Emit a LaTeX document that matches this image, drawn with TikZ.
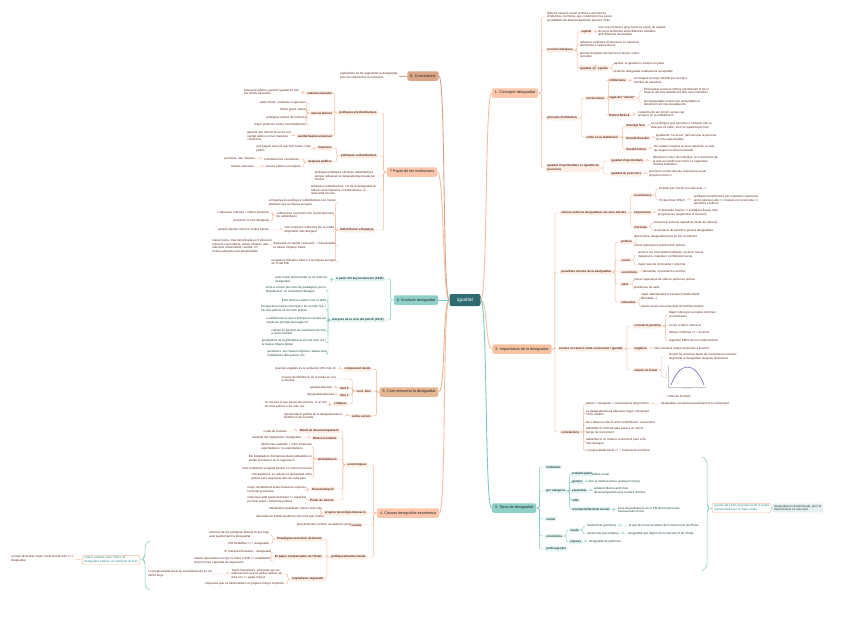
\documentclass[tikz,border=0pt]{standalone}
\usepackage{fontspec}
\setmainfont{Liberation Sans}
\definecolor{cMain}{HTML}{2D6B70}
\definecolor{oMain}{HTML}{FCC6AC}
\definecolor{o2Main}{HTML}{F5C3A2}
\definecolor{bMain}{HTML}{D9A788}
\definecolor{tanMain}{HTML}{E6B692}
\definecolor{tMain}{HTML}{8ED0C8}
\definecolor{oS}{HTML}{FEEDE4}
\definecolor{tS}{HTML}{E3F3F1}
\definecolor{oLine}{HTML}{F6BEA4}
\definecolor{o2Line}{HTML}{EEC6AB}
\definecolor{tanLine}{HTML}{E3B796}
\definecolor{bLine}{HTML}{D6A487}
\definecolor{tLine}{HTML}{7EC8C0}
\definecolor{oTx}{HTML}{5C2A1C}
\definecolor{tTx}{HTML}{1F4644}
\definecolor{tTx2}{HTML}{2C8A84}
\definecolor{gBox}{HTML}{E6EFEE}
\newcommand\fs{\fontsize{3}{3.75}\selectfont}
\tikzset{
  every node/.style={inner sep=0pt},
  mn/.style={rounded corners=2pt, minimum height=9.5, inner xsep=3pt, font=\fontsize{3.8}{4.5}\selectfont, text=black!85},
  sb/.style={rounded corners=1pt, inner xsep=1.2pt, inner ysep=0.9pt, font=\bfseries\fs, align=left},
  lf/.style={inner xsep=0.8pt, inner ysep=0.6pt, font=\fs, align=left},
  rw/.style={anchor=west}, le/.style={anchor=east},
  os/.style={sb, fill=oS, text=oTx},
  ts/.style={sb, fill=tS, text=tTx},
  ol/.style={lf, text=oTx},
  tl/.style={lf, text=tTx},
  eg/.style={line width=0.45pt, rounded corners=2pt},
}
\begin{document}
\begin{tikzpicture}[x=1pt,y=-1pt]
\fill[white] (0,0) rectangle (848,627);
\useasboundingbox (0,0) rectangle (848,627);

% ---------- centre and main branches
\node[fill=cMain, text=white, rounded corners=2pt, minimum width=31, minimum height=12, font=\fontsize{5}{6}\selectfont] (c) at (465,300) {igualtat};
\node[mn,fill=oMain] (b1) at (515,93) {1. Concepte desigualtat};
\node[mn,fill=o2Main] (b2) at (522,349) {2. Importància de la desigualtat};
\node[mn,fill=tMain] (b3) at (514,508) {3. Tipus de desigualtat};
\node[mn,fill=oMain] (b4) at (408,513) {4. Causes desigualtat econòmica};
\node[mn,fill=tanMain] (b5) at (409,392) {5. Com mesurem la desigualtat};
\node[mn,fill=tMain] (b6) at (416,300) {6. Evolució desigualtat};
\node[mn,fill=oMain] (b7) at (412,172) {7 Paper de les institucions};
\node[mn,fill=bMain] (b8) at (423,76) {8. Conclusions};

\draw[oLine,line width=0.9pt] (c.east) .. controls +(7,0) and +(-7,0) .. (b1.west);
\draw[o2Line,line width=0.9pt] (c.east) .. controls +(7,0) and +(-7,0) .. (b2.west);
\draw[tLine,line width=0.9pt] (c.east) .. controls +(7,0) and +(-7,0) .. (b3.west);
\draw[oLine,line width=0.9pt] (c.west) .. controls +(-7,0) and +(7,0) .. (b4.east);
\draw[tanLine,line width=0.9pt] (c.west) .. controls +(-7,0) and +(7,0) .. (b5.east);
\draw[tLine,line width=0.9pt] (c.west) -- (b6.east);
\draw[oLine,line width=0.9pt] (c.west) .. controls +(-7,0) and +(7,0) .. (b7.east);
\draw[bLine,line width=0.9pt] (c.west) .. controls +(-7,0) and +(7,0) .. (b8.east);

% ---------- 1. Concepte desigualtat
\node[ol,rw] (a1) at (546,17) {Diferent situació social, política o econòmica\\d'individus o territoris, que condicionen les seves\\possibilitats de desenvolupament present i futur};
\node[os,rw] (a2) at (546,50) {nocions bàsiques};
\node[os,rw] (a21) at (580,32) {equitat};
\node[ol,rw] (a211) at (597,31) {com una societat o grup humà és capaç de repartir\\els seus productes entre diferents individus\\amb diferents necessitats};
\node[ol,rw] (a22) at (579,44) {reflecteix conflictes d'interessos i/o relacions\\dominants a cada moment};
\node[ol,rw] (a23) at (579,55) {principi d'equitat canviant en el temps i entre\\societats};
\node[os,rw] (a24) at (579,68) {igualtat $\neq$ equitat};
\node[ol,rw] (a241) at (613,64) {equitat: la igualtat no sempre és justa};
\node[ol,rw] (a242) at (613,72) {nivell de desigualtat relativament acceptable};
\node[os,rw] (a3) at (546,118) {principis distributius};
\node[os,rw] (a31) at (585,98) {meritocràcia};
\node[os,rw] (a311) at (608,80) {Utilitarisme};
\node[ol,rw] (a3111) at (633,81) {aconseguir la major felicitat per al major\\nombre de persones};
\node[os,rw] (a312) at (608,98) {regla del ``màxim''};
\node[ol,rw] (a3121) at (643,91) {El benestar social es millora maximitzant el de la\\situació del més desafavorit dels seus membres};
\node[ol,rw] (a3122) at (643,103) {les desigualtats només són acceptables si\\beneficien els més desafavorits};
\node[os,rw] (a313) at (608,115) {Robert Nozick};
\node[ol,rw] (a3131) at (637,114) {L'estat ha de ser mínim, sense cap\\actuació en la redistribució};
\node[os,rw] (a32) at (585,137) {enfoc en la distribució};
\node[os,rw] (a321) at (625,126) {Amartya Sen};
\node[ol,rw] (a3211) at (650,126) {Les polítiques que permetin a cadascú triar la\\vida que ell valori; tenir la capacitat per triar};
\node[os,rw] (a322) at (625,138) {Ronald Dworkin};
\node[ol,rw] (a3221) at (655,138) {igualtat de ``recursos'' (allò del que la persona\\no n'és responsable)};
\node[os,rw] (a323) at (625,149) {Gerald Cohen};
\node[ol,rw] (a3231) at (653,149) {De cadascú segons la seva capacitat, a cada\\qui segons la seva necessitat};
\node[os,rw] (a4) at (546,168) {igualtat d'oportunitats vs igualtat de\\posicions};
\node[os,rw] (a41) at (610,161) {igualtat d'oportunitats};
\node[ol,rw] (a411) at (652,161) {diferències entre els individus, en el transcurs de\\la vida es nivellen pel mèrit, la capacitat o\\l'actitud individual};
\node[os,rw] (a42) at (610,174) {igualtat de posicions};
\node[ol,rw] (a421) at (648,174) {posicions socials dins de l'estructura social\\properes entre si};
\foreach \p/\q in {b1/a1,b1/a2,b1/a3,b1/a4,a2/a21,a2/a22,a2/a23,a2/a24,a21/a211,a24/a241,a24/a242,a3/a31,a3/a32,a31/a311,a31/a312,a31/a313,a311/a3111,a312/a3121,a312/a3122,a313/a3131,a32/a321,a32/a322,a32/a323,a321/a3211,a322/a3221,a323/a3231,a4/a41,a4/a42,a41/a411,a42/a421}
  \draw[eg,oLine] (\p.east) -- ++(3,0) |- (\q.west);

% ---------- 2. Importància de la desigualtat
\node[os,rw] (c1) at (560,213) {visions sobre la desigualtat i els seus efectes};
\node[os,rw] (c11) at (633,195) {neoclàssica};
\node[ol,rw] (c111) at (658,189) {incentiu per invertir (en educació...)};
\node[ol,rw] (c112) at (658,200) {Trickle-Down Effect};
\node[ol,rw] (c1121) at (693,200) {polítiques beneficioses per empreses i persones\\amb ingressos alts => inversió en l'economia =>\\beneficia a tothom};
\node[os,rw] (c12) at (633,213) {keynesiana};
\node[ol,rw] (c121) at (657,213) {Si demanda interna => polítiques fiscals més\\progressives (augmentar el consum)};
\node[os,rw] (c13) at (633,227) {marxista};
\node[ol,rw] (c131) at (653,223) {inherent al sistema capitalista (lluita de classes)};
\node[ol,rw] (c132) at (653,231) {acumulació de beneficis genera desigualtats};
\node[os,rw] (c2) at (560,272) {possibles efectes de la desigualtat};
\node[os,rw] (c21) at (620,242) {política};
\node[ol,rw] (c211) at (633,237) {democràcia, desigualtat posa en risc el sistema};
\node[ol,rw] (c212) at (633,246) {menor participació política dels pobres};
\node[os,rw] (c22) at (620,260) {social};
\node[ol,rw] (c221) at (637,255) {accés a les necessitats bàsiques, exclusió social,\\marginació, malestar i conflictivitat social};
\node[ol,rw] (c222) at (637,265) {major taxa de criminalitat i violència};
\node[os,rw] (c23) at (620,272) {econòmica};
\node[ol,rw] (c231) at (642,272) {demanda, creixement econòmic};
\node[os,rw] (c24) at (620,284) {salut};
\node[ol,rw] (c241) at (633,280) {menor esperança de vida en persones pobres};
\node[ol,rw] (c242) at (633,288) {problemes de salut};
\node[os,rw] (c25) at (620,302) {educativa};
\node[ol,rw] (c251) at (640,297) {major abandonament escolar (treball infantil,\\dificultats...)};
\node[ol,rw] (c252) at (640,307) {menor accés a la universitat de famílies pobres};
\node[os,rw] (c3) at (558,349) {teories correlació entre creixement i igualtat};
\node[os,rw] (c31) at (633,326) {correlació positiva};
\node[ol,rw] (c311) at (668,315) {Major rebuig per acceptar reformes\\econòmiques};
\node[ol,rw] (c312) at (668,325) {Accés a salut i educació};
\node[ol,rw] (c313) at (668,333) {Menys conflictes => + inversió};
\node[ol,rw] (c314) at (668,341) {Augment PIB/C de les rendes baixes};
\node[os,rw] (c32) at (633,349) {negativa};
\node[ol,rw] (c321) at (653,349) {més incentius (major propensió a invertir)};
\node[os,rw] (c33) at (633,370) {relació no lineal};
\node[ol,rw] (c331) at (668,357) {Durant les primeres fases de creixement econòmic\\augmenta la desigualtat, després disminueix};
\node[rw, minimum width=42, minimum height=25] (kz) at (665,377) {};
\draw[gray!45, line width=0.25pt] (668,366) -- (668,387) -- (706,387);
\draw[blue!45!gray, line width=0.45pt] (671,385) .. controls (680,361) and (695,361) .. (704,385);
\node[font=\fontsize{1.2}{1.4}\selectfont, rotate=90, text=gray] at (666.3,376) {desigualtat};
\node[font=\fontsize{1.2}{1.4}\selectfont, text=gray] at (687,389.3) {renda per càpita};
\node[ol] (kzl) at (679,396) {corba de Kuznets};
\node[os,rw] (c4) at (560,432) {correlacions};
\node[ol,rw] (c41) at (585,404) {països + desiguals, + creixement a llarg termini};
\node[ol,rw] (c411) at (660,404) {desigualtat correlaciona positivament el creixement};
\node[ol,rw] (c42) at (585,413) {La desigualtat fiscal afavoreix major creixement\\i més estable};
\node[ol,rw] (c43) at (585,422) {No s'observa relació entre redistribució i creixement};
\node[ol,rw] (c44) at (585,431) {redistribució molt elevada porta a un menor\\temps de creixement};
\node[ol,rw] (c45) at (585,442) {redistribució no redueix creixement però el fa\\més desigual};
\node[ol,rw] (c46) at (585,451) {+ progressivitat fiscal => + creixement econòmic};
\foreach \p/\q in {b2/c1,b2/c2,b2/c3,b2/c4,c1/c11,c1/c12,c1/c13,c11/c111,c11/c112,c112/c1121,c12/c121,c13/c131,c13/c132,c2/c21,c2/c22,c2/c23,c2/c24,c2/c25,c21/c211,c21/c212,c22/c221,c22/c222,c23/c231,c24/c241,c24/c242,c25/c251,c25/c252,c3/c31,c3/c32,c3/c33,c31/c311,c31/c312,c31/c313,c31/c314,c32/c321,c33/c331,c33/kz,c4/c41,c4/c42,c4/c43,c4/c44,c4/c45,c4/c46,c41/c411}
  \draw[eg,o2Line] (\p.east) -- ++(3,0) |- (\q.west);

% ---------- 3. Tipus de desigualtat
\node[ts,rw] (d1) at (545,467) {individual};
\node[ts,rw] (d2) at (545,491) {per categoria};
\node[ts,rw] (d3) at (545,519) {social};
\node[ts,rw] (d4) at (545,536) {econòmica};
\node[ts,rw] (d5) at (545,549) {política/poder};
\node[ts,rw] (d21) at (571,474) {treball/capital};
\node[tl,rw] (d211) at (591,474) {classe social};
\node[ts,rw] (d22) at (571,482) {gènere};
\node[tl,rw] (d221) at (588,482) {fem la mateixa feina i guanyem menys};
\node[ts,rw] (d23) at (571,491) {raça/ètnia};
\node[tl,rw] (d231) at (593,491) {població blanca amb més\\desenvolupament que la resta d'ètnies};
\node[ts,rw] (d24) at (571,500) {edat};
\node[ts,rw] (d25) at (571,509) {orientació/identitat sexual};
\node[tl,rw] (d251) at (617,510) {pesa de participació en el PIB de les persones\\transsexuals menor};
\node[ts,rw] (d41) at (569,530) {renda};
\node[tl,rw] (d411) at (586,526) {renda bruta (primària)};
\node[tl,rw] (d4111) at (628,526) {la que fa el mercat abans de la intervenció de l'Estat};
\node[tl,rw] (d412) at (586,534) {renda neta (secundària)};
\node[tl,rw] (d4121) at (627,534) {desigualtat que depèn de la intervenció de l'Estat};
\node[ts,rw] (d42) at (569,542) {riquesa};
\node[tl,rw] (d421) at (588,542) {desigualtat de patrimoni};
\foreach \p/\q in {b3/d1,b3/d2,b3/d3,b3/d4,b3/d5,d2/d21,d2/d22,d2/d23,d2/d24,d2/d25,d21/d211,d22/d221,d23/d231,d25/d251,d4/d41,d4/d42,d41/d411,d41/d412,d411/d4111,d412/d4121,d42/d421}
  \draw[eg,tLine] (\p.east) -- ++(3,0) |- (\q.west);
% summary
\draw[tLine,line width=0.5pt,rounded corners=3pt] (702,457) -- (707,460) -- (707,505) -- (709.5,508) -- (707,511) -- (707,567) -- (702,571);
\node[lf, draw=oLine, fill=white, rounded corners=1.5pt, inner xsep=2pt, inner ysep=1.4pt, text=tTx2, rw] (s1) at (712,508) {a partir del 1970, la proporció de la renda\\representada per la major renda};
\node[lf, fill=gBox, rounded corners=1.5pt, inner xsep=2pt, inner ysep=1.4pt, text=tTx, rw] (s2) at (772,508) {desigualtat no determinada, però la\\determinació és més tard};
\draw[eg,tLine] (709.5,508) -- (s1.west);
\draw[eg,tLine] (s1.east) -- (s2.west);

% ---------- 8. Conclusions
\node[ol,le] (e1) at (399,76) {capitalisme ha fet augmentar la desigualtat,\\però les institucions la redueixen};
\draw[eg,bLine] (b8.west) -- (e1.east);

% ---------- 7. Paper de les institucions
\node[os,le] (f1) at (378,113) {polítiques predistributives};
\node[os,le] (f11) at (333,93) {sistema educatiu};
\node[ol,le] (f111) at (300,92) {Educació pública, garantir igualtat en tots\\els nivells educatius};
\node[os,le] (f12) at (333,113) {mercat laboral};
\node[ol,le] (f121) at (307,103) {salari mínim, sindicats i negociació};
\node[ol,le] (f122) at (307,110) {limitar grans salaris};
\node[ol,le] (f123) at (307,118) {polítiques actives de formació};
\node[ol,le] (f124) at (307,125) {major protecció contra l'acomiadament};
\node[os,le] (f13) at (333,136) {sanitat bàsica universal};
\node[ol,le] (f131) at (292,136) {garantir que tothom té accés a la\\sanitat pública en les mateixes\\condicions};
\node[os,le] (f2) at (378,156) {polítiques redistributives};
\node[os,le] (f21) at (333,148) {impostos};
\node[ol,le] (f211) at (312,149) {que paguin més els que més tenen i més\\poden};
\node[os,le] (f22) at (333,162) {despesa pública};
\node[ol,le] (f221) at (300,159) {transferències monetàries};
\node[ol,le] (f2211) at (259,159) {pensions, atur, beques,...};
\node[ol,le] (f222) at (302,167) {serveis públics en espècie};
\node[ol,le] (f2221) at (258,167) {sanitat, educació,...};
\node[ol,le] (f3) at (376,176) {polítiques públiques efectives redistributives\\perquè redueixen la desigualtat generada pel\\mercat};
\node[ol,le] (f4) at (377,190) {polítiques redistributives: 1/3 de la desigualtat es\\redueix amb impostos i transferències, la\\resta amb serveis};
\node[os,le] (f5) at (375,230) {redistribució a Espanya};
\node[ol,le] (f51) at (337,203) {a Espanya les polítiques redistributives són menys\\efectives que la mitjana europea};
\node[ol,le] (f52) at (335,215) {cotitzacions i pensions són la principal eina\\de redistribució};
\node[ol,le] (f521) at (270,213) {+ ingressos cotitzats = millors pensions};
\node[ol,le] (f522) at (270,221) {pensions no tant desiguals};
\node[ol,le] (f53) at (335,230) {IVA i impostos indirectes fan la renda\\disponible més desigual};
\node[ol,le] (f531) at (270,230) {perquè afecten més les rendes baixes};
\node[ol,le] (f54) at (337,246) {despeses en sanitat i educació: + beneficiades\\la classe mitjana i baixa};
\node[ol,le] (f541) at (273,246) {classe baixa: més beneficiada per l'educació\\primària i secundària; classe mitjana i alta:\\educació universitària i sanitat, en\\termes absoluts més beneficiades};
\node[ol,le] (f55) at (337,262) {recaptació tributària inferior a la mitjana europea\\en \% del PIB};
\foreach \p/\q in {b7/f1,b7/f2,b7/f3,b7/f4,b7/f5,f1/f11,f1/f12,f1/f13,f11/f111,f12/f121,f12/f122,f12/f123,f12/f124,f13/f131,f2/f21,f2/f22,f21/f211,f22/f221,f22/f222,f221/f2211,f222/f2221,f5/f51,f5/f52,f5/f53,f5/f54,f5/f55,f52/f521,f52/f522,f53/f531,f54/f541}
  \draw[eg,oLine] (\p.west) -- ++(-3,0) |- (\q.east);

% ---------- 6. Evolució desigualtat
\node[ts,le] (g1) at (385,279) {A partir del keynesianisme (1945)};
\node[tl,le] (g11) at (328,280) {amb l'estat del benestar es va reduir la\\desigualtat};
\node[ts,le] (g2) at (385,320) {Després de la crisi del petroli (1973)};
\node[tl,le] (g21) at (327,290) {torna a créixer pel canvi de paradigma, per la\\liberalització i el creixement desigual};
\node[tl,le] (g22) at (327,300) {EUA tornen a valors com el 1920};
\node[tl,le] (g23) at (327,309) {Europa del nord ha començat a fer-se més rica, i\\els més pobres es fan més pobres};
\node[tl,le] (g24) at (327,321) {La diferència és que a Europa no s'arriba als\\nivells de principis del segle XX};
\node[tl,le] (g25) at (327,332) {creixen en general els coeficients de Gini\\a nivell mundial};
\node[tl,le] (g26) at (327,343) {guanyadors de la globalització són els més rics i\\la classe mitjana global};
\node[tl,le] (g27) at (328,354) {perdedors: les classes mitjanes i baixes dels\\treballadors dels països rics};
\foreach \p/\q in {b6/g1,b6/g2,g1/g11,g2/g21,g2/g22,g2/g23,g2/g24,g2/g25,g2/g26,g2/g27}
  \draw[eg,tLine] (\p.west) -- ++(-3,0) |- (\q.east);

% ---------- 5. Com mesurem la desigualtat
\node[os,le] (h1) at (372,369) {comparació decils};
\node[ol,le] (h11) at (337,369) {quantes vegades és la renda del 10\% més ric};
\node[os,le] (h2) at (372,391) {coef. Gini};
\node[ol,le] (h21) at (337,379) {mesura de distribució de la renda en una\\economia};
\node[os,le] (h22) at (350,388) {Gini 0};
\node[ol,le] (h221) at (333,388) {igualtat absoluta};
\node[os,le] (h23) at (350,395) {Gini 1};
\node[ol,le] (h231) at (335,395) {desigualtat absoluta};
\node[os,le] (h24) at (348,404) {crítiques};
\node[ol,le] (h241) at (328,405) {no mesura el que passa als extrems, ni on són\\els més pobres o els més rics};
\node[os,le] (h3) at (372,416) {corba Lorenz};
\node[ol,le] (h31) at (343,416) {representació gràfica de la desigualtat de la\\distribució de la renda};
\foreach \p/\q in {b5/h1,b5/h2,b5/h3,h1/h11,h2/h21,h2/h22,h2/h23,h2/h24,h22/h221,h23/h231,h24/h241,h3/h31}
  \draw[eg,tanLine] (\p.west) -- ++(-3,0) |- (\q.east);

% ---------- 4. Causes desigualtat econòmica
\node[os,le] (i1) at (368,465) {econòmiques};
\node[os,le] (i11) at (340,431) {Nivell de desenvolupament};
\node[ol,le] (i111) at (288,431) {corba de Kuznets};
\node[os,le] (i12) at (338,438) {Model econòmic};
\node[ol,le] (i121) at (302,438) {varietats del capitalisme i desigualtat};
\node[os,le] (i13) at (338,459) {Globalització};
\node[ol,le] (i131) at (313,447) {diferències salarials + entre empreses\\exportadores i no exportadores};
\node[ol,le] (i132) at (313,459) {Els treballadors d'empreses deslocalitzables no\\poden pressionar en la negociació};
\node[ol,le] (i133) at (313,469) {més rendiment al capital perquè no marxi la inversió};
\node[ol,le] (i134) at (313,477) {conseqüència: es redueix la desigualtat entre\\països però augmenta dins de cada país};
\node[os,le] (i14) at (335,489) {Financerització};
\node[ol,le] (i141) at (307,490) {major rendibilitat d'actius financers respecte\\l'activitat productiva};
\node[os,le] (i15) at (335,500) {Poder de mercat};
\node[ol,le] (i151) at (307,500) {empreses amb quota dominant => capacitat\\per fixar preus i influència política};
\node[os,le] (i2) at (367,513) {progrés tecnològic/educació};
\node[ol,le] (i21) at (323,509) {treballadors qualificats cobren molt més};
\node[ol,le] (i22) at (325,517) {demanda de treball qualificat creix més que l'oferta};
\node[os,le] (i3) at (363,525) {socials};
\node[ol,le] (i31) at (352,525) {grup dominant, família, acceptació social};
\node[os,le] (i4) at (367,557) {polítiques/institucionals};
\node[os,le] (i41) at (323,539) {Paradigma econòmic dominant};
\node[ol,le] (i411) at (270,535) {extensió de les polítiques liberals fa que hagi\\anat augmentant la desigualtat};
\node[ol,le] (i412) at (270,544) {FMI flexibilitat => + desigualtat};
\node[os,le] (i42) at (323,557) {El paper compensador de l'Estat};
\node[ol,le] (i421) at (272,552) {Si l'estat del benestar, - desigualtat};
\node[ol,le] (i422) at (272,561) {salaris representen menys \% sobre el PIB => treballadors\\tenen menys capacitat de negociació};
\node[os,le] (i43) at (325,579) {Capitalisme regulador};
\node[ol,le] (i431) at (283,574) {Taxes impositives, propostes per les\\elaboracions que es poden aplicar als\\més rics => pagar menys};
\node[ol,le] (i4311) at (213,574) {La progressivitat fiscal ha anat disminuint en els\\últims anys};
\node[ol,le] (i432) at (285,584) {empreses que es deslocalitzen on paguen menys impostos};
\foreach \p/\q in {b4/i1,b4/i2,b4/i3,b4/i4,i1/i11,i1/i12,i1/i13,i1/i14,i1/i15,i11/i111,i12/i121,i13/i131,i13/i132,i13/i133,i13/i134,i14/i141,i15/i151,i2/i21,i2/i22,i3/i31,i4/i41,i4/i42,i4/i43,i41/i411,i41/i412,i42/i421,i42/i422,i43/i431,i43/i432,i431/i4311}
  \draw[eg,oLine] (\p.west) -- ++(-3,0) |- (\q.east);
% summary left
\draw[tLine,line width=0.5pt,rounded corners=3pt] (150,541) -- (145,544) -- (145,556) -- (142.5,559) -- (145,562) -- (145,587) -- (150,590);
\node[lf, draw=oLine, fill=white, rounded corners=1.5pt, inner xsep=2pt, inner ysep=1.4pt, text=tTx2, le] (s3) at (140,560) {relació positiva entre l'índex de\\desigualtat salarial i el coeficient de Gini};
\node[ol,le] (s4) at (75,559) {a major diversitat, major coeficient de Gini => +\\desigualtat};
\draw[eg,tLine] (142.5,559) -- (s3.east);
\draw[eg,oLine] (s3.west) -- (s4.east);
\end{tikzpicture}
\end{document}
